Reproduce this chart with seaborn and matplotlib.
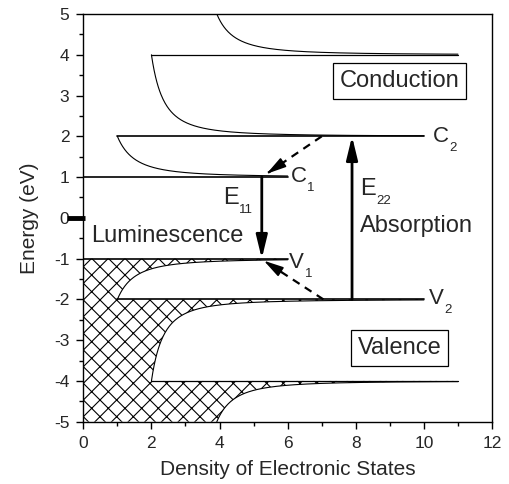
import numpy as np
import matplotlib
matplotlib.use("Agg")
import matplotlib.pyplot as plt
import seaborn as sns

# Subband onsets (eV) on the conduction side; the valence side mirrors them
onsets = [1.0, 2.0, 4.0]
cut_energy = [2.0, 4.0, 5.0]     # where each singular branch is cut off (next onset / axis top)
dos_at_cut = [1.0, 2.0, 3.92]    # density of states at that cut
branch_end = [6.0, 10.0, 11.0]   # right end of each branch and of its edge line
edge_start = [0.0, 1.0, 2.0]     # left end of the edge line at each onset

x_ticks = [0, 2, 4, 6, 8, 10, 12]
y_ticks = [-5, -4, -3, -2, -1, 0, 1, 2, 3, 4, 5]

# transitions: (x, start energy, end energy)
e11 = (5.24, 1.0, -1.0)
e22 = (7.89, -2.0, 2.0)
# relaxation paths: (tail, tip)
relax_c = ((7.0, 2.0), (5.38, 1.08))
relax_v = ((7.05, -2.0), (5.30, -1.05))

sns.set_theme(style="ticks")
plt.rcParams["font.family"] = ["Liberation Sans", "DejaVu Sans"]
plt.rcParams["axes.unicode_minus"] = False
plt.rcParams["hatch.linewidth"] = 0.8

fig = plt.figure(figsize=(5.09, 4.84), dpi=100)
ax = fig.add_axes([0.1637, 0.1287, 0.8029, 0.8423])


def branch(i, n=400):
    """1D van Hove branch: x = base + 1/sqrt(E - onset)."""
    base = dos_at_cut[i] - 1.0 / np.sqrt(cut_energy[i] - onsets[i])
    x = np.linspace(dos_at_cut[i], branch_end[i], n)
    e = onsets[i] + 1.0 / (x - base) ** 2
    return x, e


# occupied (valence) states: hatched region left of the DOS curve
px, py = [0.0], [-onsets[0]]
for i in range(3):
    x, e = branch(i)
    px += [edge_start[i], branch_end[i]]
    py += [-onsets[i], -onsets[i]]
    px += list(x[::-1])
    py += list(-e[::-1])
px += [0.0]
py += [-5.0]
ax.fill(px, py, facecolor="none", edgecolor="black", hatch="xx", linewidth=0, zorder=1)

for sign in (1, -1):
    for i in range(3):
        x, e = branch(i)
        sns.lineplot(x=x, y=sign * e, sort=False, estimator=None, color="black",
                     lw=0.8, ax=ax, zorder=3)
        lw = 1.2 if i < 2 else 0.9
        sns.lineplot(x=[edge_start[i], branch_end[i]], y=[sign * onsets[i]] * 2,
                     sort=False, estimator=None, color="black", lw=lw, ax=ax, zorder=3)

# optical transitions
solid_head = "-|>,head_length=0.7,head_width=0.17"
for xx, e0, e1 in (e11, e22):
    ax.annotate("", xy=(xx, e1), xytext=(xx, e0),
                arrowprops=dict(arrowstyle=solid_head, lw=2.0, color="black",
                                shrinkA=0, shrinkB=0, mutation_scale=20), zorder=5)

# relaxation: dashed shaft plus a solid head at the tip
for tail, tip in (relax_c, relax_v):
    ax.plot([tail[0], tip[0]], [tail[1], tip[1]], color="black", lw=1.6,
            linestyle=(0, (3.6, 2.8)), zorder=5)
    back = (tip[0] + 0.3 * (tail[0] - tip[0]), tip[1] + 0.3 * (tail[1] - tip[1]))
    ax.annotate("", xy=tip, xytext=back,
                arrowprops=dict(arrowstyle="-|>,head_length=0.6,head_width=0.16",
                                lw=1.2, color="black", shrinkA=0, shrinkB=0,
                                mutation_scale=20), zorder=5)

# Fermi level marker
ax.plot([-0.49, 0.05], [0, 0], color="black", lw=3.5, solid_capstyle="butt",
        clip_on=False, zorder=6)

big = 17
sub = 9.5


def level_label(x, y, main, subtxt, size=big):
    t = ax.text(x, y, main, fontsize=size, ha="left", va="baseline", zorder=6)
    ax.annotate(subtxt, xy=(1, 0), xycoords=t, xytext=(0.3, -3.2),
                textcoords="offset points", fontsize=sub, ha="left", va="baseline")


level_label(6.08, 0.89, "C", "1", 16)
level_label(10.27, 1.87, "C", "2", 16)
level_label(6.05, -1.23, "V", "1", 16)
level_label(10.14, -2.11, "V", "2", 16)
level_label(4.10, 0.34, "E", "11")
level_label(8.13, 0.56, "E", "22")

ax.text(0.22, -0.58, "Luminescence", fontsize=big, ha="left", va="baseline")
ax.text(8.13, -0.34, "Absorption", fontsize=big, ha="left", va="baseline")

box = dict(boxstyle="square,pad=0.28", facecolor="white", edgecolor="black", lw=0.9)
ax.text(9.28, 3.36, "Conduction", fontsize=big, ha="center", va="center", bbox=box)
ax.text(9.28, -3.19, "Valence", fontsize=big, ha="center", va="center", bbox=box)

ax.set_xlim(0, 12)
ax.set_ylim(-5, 5)
ax.set_xticks(x_ticks)
ax.set_xticks(np.arange(1, 12, 2), minor=True)
ax.set_yticks(y_ticks)
ax.set_yticks(np.arange(-4.5, 5, 1.0), minor=True)
ax.tick_params(axis="both", which="major", direction="out", length=5, width=1,
               labelsize=12.5, color="black", pad=5)
ax.tick_params(axis="both", which="minor", direction="out", length=3, width=1,
               color="black")
for s in ax.spines.values():
    s.set_visible(True)
    s.set_linewidth(1.0)
    s.set_color("black")

ax.set_xlabel("Density of Electronic States", fontsize=15, labelpad=7)
ax.set_ylabel("Energy (eV)", fontsize=15, labelpad=11)

fig.savefig("out.png", dpi=100)
